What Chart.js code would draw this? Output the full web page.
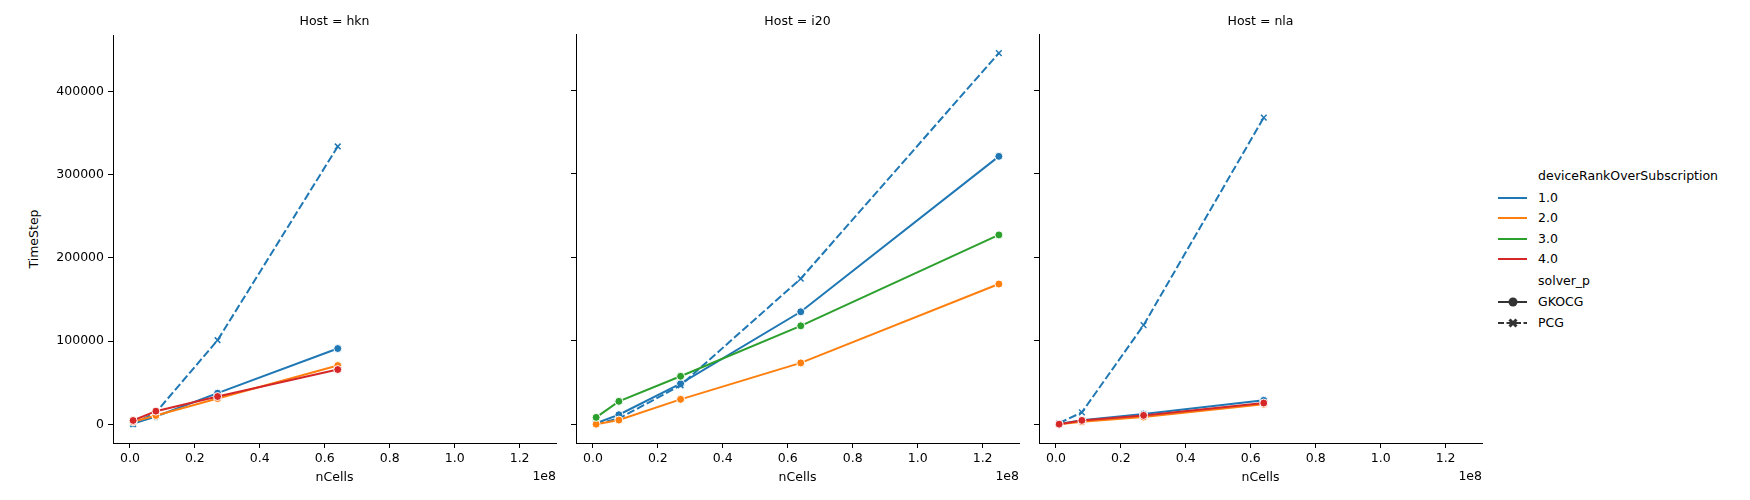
<!DOCTYPE html>
<html>
<head>
<meta charset="utf-8">
<script src="https://cdn.jsdelivr.net/npm/chart.js@4"></script>
<style>
  body { margin: 0; background: #fff; font-family: "DejaVu Sans", sans-serif; font-size: 12.5px; color: #000; }
  #page { position: relative; width: 1750px; height: 500px; overflow: hidden; }
  .panel { position: absolute; top: 24px; width: 515px; height: 459px; }
  .txt { position: absolute; white-space: nowrap; line-height: 1; }
  .ctr { transform: translate(-50%, -50%); }
  .leg-line { position: absolute; left: 1498px; width: 29px; height: 0; border-top: 2px solid; }
</style>
</head>
<body>
<div id="page"></div>
<script>
// x values shared by every series
const nCells = [1000000, 8000000, 27000000, 64000000, 125000000];
const hosts = ['hkn', 'i20', 'nla'];
const ranks = ['1.0', '2.0', '3.0', '4.0'];
const solvers = ['GKOCG', 'PCG'];
const rankColors = ['#1f77b4', '#ff7f0e', '#2ca02c', '#d62728'];

const xTicks = [0, 20000000, 40000000, 60000000, 80000000, 100000000, 120000000];
const yTicks = [0, 100000, 200000, 300000, 400000];

// hkn
const hknGkocg1 = [1200, 9600, 37600, 91200];
const hknGkocg2 = [3200, 10800, 31200, 70800];
const hknGkocg4 = [4800, 16000, 33600, 66000];
const hknPcg1 = [300, 14400, 101200, 334000];

// i20
const i20Gkocg1 = [1600, 11600, 48800, 134800, 320800];
const i20Gkocg2 = [300, 5200, 30000, 73600, 168000];
const i20Gkocg3 = [8400, 27600, 57600, 118000, 226800];
const i20Pcg1 = [500, 7000, 46800, 174400, 444400];

// nla
const nlaGkocg1 = [400, 5000, 12400, 28800];
const nlaGkocg2 = [200, 3200, 8800, 24000];
const nlaGkocg4 = [300, 4800, 10800, 25600];
const nlaPcg1 = [1500, 14400, 118800, 367200];

// [rank index, solver index, values]
const hostSeries = {
  hkn: [[0, 1, hknPcg1], [0, 0, hknGkocg1], [1, 0, hknGkocg2], [3, 0, hknGkocg4]],
  i20: [[0, 1, i20Pcg1], [0, 0, i20Gkocg1], [1, 0, i20Gkocg2], [2, 0, i20Gkocg3]],
  nla: [[0, 1, nlaPcg1], [0, 0, nlaGkocg1], [1, 0, nlaGkocg2], [3, 0, nlaGkocg4]]
};

const X_MIN = -5200000, X_MAX = 131200000;
const Y_MIN = -22250, Y_MAX = 467250;

const page = document.getElementById('page');

const addText = (text, x, y, cls, extra) => {
  const el = document.createElement('div');
  el.className = 'txt ' + (cls || '');
  el.textContent = text;
  el.style.left = x + 'px';
  el.style.top = y + 'px';
  if (extra) Object.assign(el.style, extra);
  page.appendChild(el);
  return el;
};

const areaTop = 34, areaH = 409, areaW = 443, yW = 62, padR = 10;

hosts.forEach((host, hi) => {
  const areaLeft = 113 + 463 * hi;
  const div = document.createElement('div');
  div.className = 'panel';
  div.style.left = (areaLeft - yW) + 'px';
  const canvas = document.createElement('canvas');
  div.appendChild(canvas);
  page.appendChild(div);

  const datasets = hostSeries[host].map(([ri, si, vals]) => {
    const color = rankColors[ri];
    const isPcg = solvers[si] === 'PCG';
    return {
      label: ranks[ri] + ' ' + solvers[si],
      data: vals.map((v, i) => ({ x: nCells[i], y: v })),
      borderColor: color,
      borderWidth: 2,
      borderDash: isPcg ? [8, 3] : [],
      pointStyle: isPcg ? 'crossRot' : 'circle',
      pointRadius: 4,
      pointBackgroundColor: color,
      pointBorderColor: isPcg ? color : '#ffffff',
      pointBorderWidth: isPcg ? 1.5 : 1,
      order: 3 - ri,
      tension: 0,
      fill: false
    };
  });

  new Chart(canvas, {
    type: 'line',
    data: { datasets },
    options: {
      responsive: true,
      maintainAspectRatio: false,
      animation: false,
      devicePixelRatio: 1,
      layout: { padding: { top: 10, right: padR, left: 0, bottom: 0 } },
      plugins: { legend: { display: false }, tooltip: { enabled: false } },
      scales: {
        x: {
          type: 'linear',
          min: X_MIN,
          max: X_MAX,
          afterBuildTicks: (s) => { s.ticks = xTicks.map(v => ({ value: v })); },
          afterFit: (s) => { s.height = 40; },
          grid: { drawOnChartArea: false, color: '#000', tickLength: 5, tickWidth: 1 },
          border: { color: '#000', width: 1 },
          ticks: {
            color: '#000',
            padding: 3,
            maxRotation: 0,
            autoSkip: false,
            font: { family: 'DejaVu Sans', size: 12.5 },
            callback: (v) => (v / 1e8).toFixed(1)
          }
        },
        y: {
          type: 'linear',
          min: Y_MIN,
          max: Y_MAX,
          afterBuildTicks: (s) => { s.ticks = yTicks.map(v => ({ value: v })); },
          afterFit: (s) => { s.width = yW; },
          grid: { drawOnChartArea: false, color: '#000', tickLength: 5, tickWidth: 1 },
          border: { color: '#000', width: 1 },
          ticks: {
            display: hi === 0,
            color: '#000',
            padding: 4,
            autoSkip: false,
            font: { family: 'DejaVu Sans', size: 12.5 },
            callback: (v) => String(v)
          }
        }
      }
    }
  });

  const cx = areaLeft + areaW / 2;
  addText('Host = ' + host, cx, 21, 'ctr');
  addText('nCells', cx, 477, 'ctr');
  addText('1e8', areaLeft + areaW, 470, '', { transform: 'translateX(-100%)' });
});

addText('TimeStep', 34, 239, 'ctr', { transform: 'translate(-50%, -50%) rotate(-90deg)' });

// legend
addText('deviceRankOverSubscription', 1538, 176, '', { transform: 'translateY(-50%)' });
const legY = [198, 218, 239, 259];
ranks.forEach((r, i) => {
  const ln = document.createElement('div');
  ln.className = 'leg-line';
  ln.style.top = (legY[i] - 1) + 'px';
  ln.style.borderColor = rankColors[i];
  page.appendChild(ln);
  addText(r, 1538, legY[i], '', { transform: 'translateY(-50%)' });
});
addText('solver_p', 1538, 281, '', { transform: 'translateY(-50%)' });

const svgNS = 'http://www.w3.org/2000/svg';
const legSvg = document.createElementNS(svgNS, 'svg');
legSvg.setAttribute('width', '40');
legSvg.setAttribute('height', '50');
legSvg.style.position = 'absolute';
legSvg.style.left = '1495px';
legSvg.style.top = '290px';
legSvg.innerHTML =
  '<line x1="3" y1="12" x2="32" y2="12" stroke="#333" stroke-width="2"/>' +
  '<circle cx="18" cy="12" r="4.5" fill="#333"/>' +
  '<line x1="3" y1="33" x2="32" y2="33" stroke="#333" stroke-width="2" stroke-dasharray="6,2.5"/>' +
  '<path d="M14.5 29.5 L21.5 36.5 M21.5 29.5 L14.5 36.5" stroke="#333" stroke-width="3"/>';
page.appendChild(legSvg);
addText('GKOCG', 1538, 302, '', { transform: 'translateY(-50%)' });
addText('PCG', 1538, 323, '', { transform: 'translateY(-50%)' });
</script>
</body>
</html>
